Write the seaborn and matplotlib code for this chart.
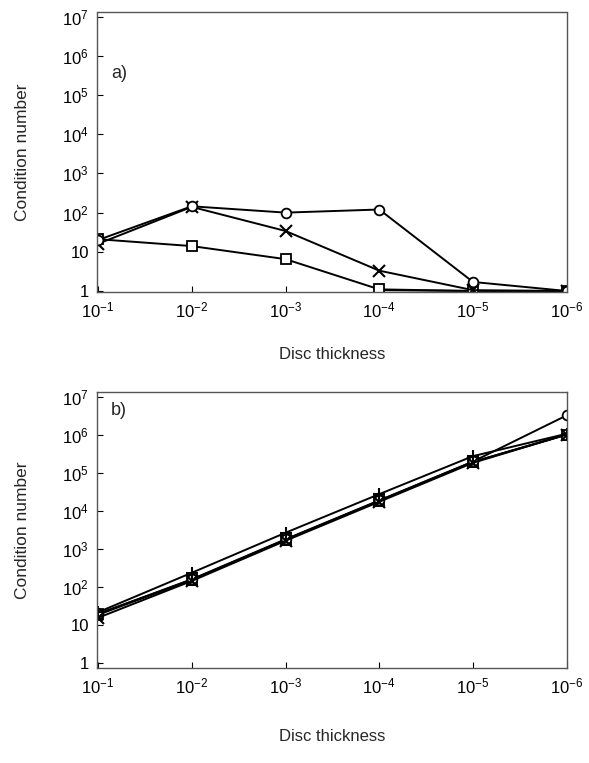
import numpy as np
import pandas as pd
import matplotlib
matplotlib.use("Agg")
import matplotlib.pyplot as plt
import seaborn as sns

sns.set_theme(style="white")
plt.rcParams['font.family'] = ['Liberation Sans', 'DejaVu Sans']
plt.rcParams['mathtext.default'] = 'regular'

thickness = [1e-1, 1e-2, 1e-3, 1e-4, 1e-5, 1e-6]
x_ticks = [1e-1, 1e-2, 1e-3, 1e-4, 1e-5, 1e-6]
x_ticklabels = ['$10^{-1}$', '$10^{-2}$', '$10^{-3}$', '$10^{-4}$', '$10^{-5}$', '$10^{-6}$']
y_ticks = [1, 10, 1e2, 1e3, 1e4, 1e5, 1e6, 1e7]
y_ticklabels = ['1', '10', '$10^{2}$', '$10^{3}$', '$10^{4}$', '$10^{5}$', '$10^{6}$', '$10^{7}$']

# Panel a
a_triangle_x = [1e-4, 1e-5, 1e-6]
a_triangle = [1.05, 1.0, 1.0]
a_square = [21, 14, 6.5, 1.1, 1.0, 1.0]
a_cross = [16, 140, 34, 3.3, 1.05, 1.0]
a_circle = [20, 145, 100, 120, 1.7, 1.0]

# Panel b
b_triangle = [18, 150, 1700, 18000, 190000, 1.0e6]
b_square = [19, 150, 1700, 18000, 190000, 1.0e6]
b_circle = [19, 155, 1750, 18500, 195000, 3.2e6]
b_cross = [15, 140, 1600, 17000, 180000, 1.0e6]
b_plus = [21, 230, 2600, 27000, 270000, 1.05e6]

fig = plt.figure(figsize=(5.89, 7.63), dpi=100)
ax_a = fig.add_axes([0.165, 0.617, 0.798, 0.367])
ax_b = fig.add_axes([0.165, 0.124, 0.798, 0.362])

def draw(ax, xs, ys, marker, size=7):
    df = pd.DataFrame({'t': xs, 'c': ys})
    kw = dict(markerfacecolor='white', markeredgecolor='black', markeredgewidth=1.3)
    if marker in ('x', '+'):
        kw = dict(markeredgecolor='black', markeredgewidth=1.5)
    sns.lineplot(data=df, x='t', y='c', ax=ax, color='black', linewidth=1.4,
                 marker=marker, markersize=size, **kw)

draw(ax_a, a_triangle_x, a_triangle, '^')
draw(ax_a, thickness, a_square, 's')
draw(ax_a, thickness, a_cross, 'x', 8)
draw(ax_a, thickness, a_circle, 'o')

draw(ax_b, thickness, b_triangle, '^')
draw(ax_b, thickness, b_square, 's')
draw(ax_b, thickness, b_circle, 'o')
draw(ax_b, thickness, b_cross, 'x', 8)
draw(ax_b, thickness, b_plus, '+', 9)

for ax, lab, ylo, lab_y, xpad in ((ax_a, 'a)', 0.93, 0.81, 19), (ax_b, 'b)', 0.7, 0.965, 23)):
    ax.set_xscale('log')
    ax.set_yscale('log')
    ax.set_xlim(1.02e-1, 0.99e-6)
    ax.set_ylim(ylo, 1.3e7)
    ax.set_xticks(x_ticks)
    ax.set_xticklabels(x_ticklabels)
    ax.set_yticks(y_ticks)
    ax.set_yticklabels(y_ticklabels)
    ax.minorticks_off()
    ax.tick_params(axis='both', direction='in', length=4, width=0.8, colors='black',
                   labelsize=12, left=True, bottom=True, top=False, right=False, pad=6)
    for sp in ax.spines.values():
        sp.set_linestyle((0, (1, 1)))
        sp.set_color('#555555')
        sp.set_linewidth(1.0)
    ax.set_xlabel('Disc thickness', fontsize=12, labelpad=xpad)
    ax.set_ylabel('Condition number', fontsize=12.5, labelpad=23)
    ax.text(0.03, lab_y, lab, transform=ax.transAxes, fontsize=13, va='top', ha='left')

fig.savefig('out.png', dpi=100)
